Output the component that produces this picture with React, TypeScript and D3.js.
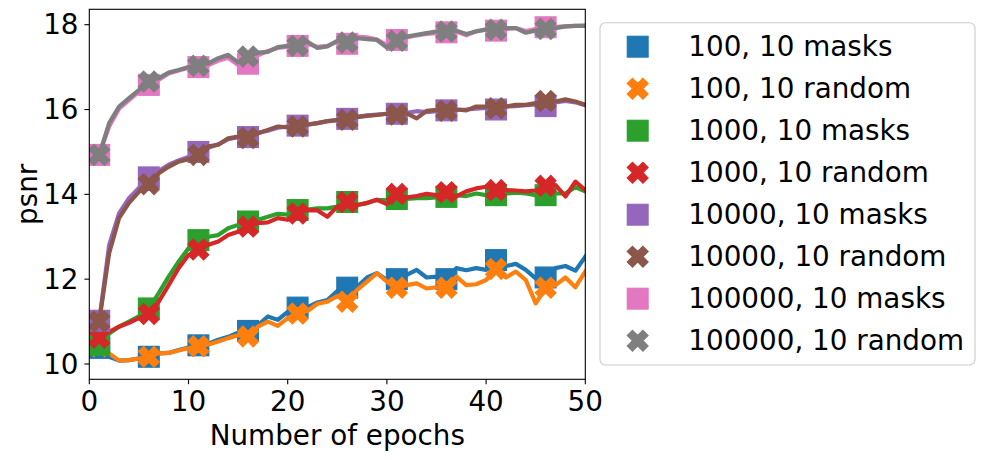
import { useEffect } from 'react'
import * as d3 from 'd3'

// epochs 1..50, values
const epochs = d3.range(1, 51)

const masks100 = [
  10.38, 10.17, 10.08, 10.09, 10.13, 10.17, 10.25, 10.26, 10.33, 10.39,
  10.44, 10.48, 10.57, 10.64, 10.74, 10.78, 10.92, 11.12, 11.04, 11.23,
  11.33, 11.34, 11.45, 11.51, 11.72, 11.8, 11.82, 12.04, 12.14, 11.98,
  12.0, 12.1, 12.22, 12.04, 12.06, 12.0, 12.26, 12.21, 12.26, 12.22,
  12.45, 12.31, 12.36, 12.22, 12.02, 12.04, 12.26, 12.31, 12.2, 12.53
]
const random100 = [
  10.42, 10.25, 10.08, 10.09, 10.13, 10.17, 10.25, 10.26, 10.32, 10.37,
  10.42, 10.46, 10.53, 10.61, 10.68, 10.65, 10.88, 11.0, 10.9, 11.08,
  11.19, 11.25, 11.42, 11.47, 11.6, 11.47, 11.75, 11.94, 12.14, 11.94,
  11.8, 11.86, 11.9, 11.78, 11.81, 11.8, 12.06, 11.86, 11.88, 11.98,
  12.24, 12.04, 12.18, 11.98, 11.43, 11.8, 11.86, 12.04, 11.81, 12.18
]
const masks1000 = [
  10.45, 10.72, 10.88, 11.0, 11.12, 11.31, 11.67, 12.06, 12.41, 12.73,
  12.92, 13.0, 13.04, 13.2, 13.28, 13.36, 13.4, 13.47, 13.54, 13.52,
  13.63, 13.64, 13.67, 13.67, 13.71, 13.82, 13.75, 13.79, 13.87, 13.86,
  13.89, 13.89, 13.91, 13.91, 13.93, 13.94, 13.98, 13.96, 14.02, 13.98,
  13.98, 14.02, 14.04, 14.02, 13.98, 13.98, 14.02, 14.02, 14.17, 14.07
]
const random1000 = [
  10.62, 10.76, 10.88, 10.97, 11.08, 11.18, 11.47, 11.86, 12.26, 12.57,
  12.7, 12.81, 12.89, 13.04, 13.12, 13.24, 13.32, 13.34, 13.44, 13.4,
  13.55, 13.63, 13.62, 13.47, 13.71, 13.82, 13.75, 13.8, 13.87, 13.77,
  14.01, 13.93, 13.96, 14.01, 13.98, 14.05, 13.95, 14.07, 14.14, 14.18,
  14.1, 14.1, 14.09, 14.07, 14.09, 14.2, 14.22, 13.95, 14.3, 14.1
]
const masks10000 = [
  11.02, 12.8, 13.55, 13.91, 14.15, 14.4, 14.55, 14.7, 14.8, 14.88,
  15.0, 15.1, 15.18, 15.3, 15.35, 15.35, 15.45, 15.5, 15.57, 15.6,
  15.62, 15.65, 15.68, 15.72, 15.75, 15.78, 15.83, 15.86, 15.88, 15.9,
  15.9, 15.92, 15.96, 15.94, 15.96, 15.98, 15.99, 16.0, 16.02, 16.04,
  16.0, 16.07, 16.08, 16.1, 16.12, 16.08, 16.17, 16.2, 16.17, 16.1
]
const random10000 = [
  11.0, 12.61, 13.44, 13.8, 14.06, 14.24, 14.5, 14.65, 14.77, 14.83,
  14.93, 15.13, 15.17, 15.32, 15.36, 15.33, 15.44, 15.52, 15.6, 15.58,
  15.6, 15.64, 15.68, 15.73, 15.75, 15.76, 15.82, 15.85, 15.87, 15.9,
  15.88, 15.91, 15.79, 15.97, 15.99, 15.97, 16.0, 15.98, 16.07, 16.07,
  16.03, 16.07, 16.11, 16.11, 16.15, 16.2, 16.19, 16.24, 16.19, 16.11
]
const masks100000 = [
  14.93, 15.6, 16.02, 16.22, 16.42, 16.58, 16.7, 16.85, 16.92, 16.98,
  17.0, 17.05, 17.15, 17.22, 17.05, 17.08, 17.28, 17.38, 17.45, 17.48,
  17.5, 17.55, 17.48, 17.5, 17.6, 17.55, 17.72, 17.7, 17.65, 17.52,
  17.64, 17.7, 17.75, 17.78, 17.8, 17.82, 17.84, 17.75, 17.85, 17.88,
  17.86, 17.9, 17.92, 17.85, 17.9, 17.94, 17.95, 17.96, 17.97, 17.98
]
const random100000 = [
  14.93, 15.68, 16.07, 16.27, 16.46, 16.66, 16.74, 16.87, 16.93, 17.0,
  17.03, 17.09, 17.21, 17.29, 17.11, 17.25, 17.34, 17.36, 17.47, 17.5,
  17.5, 17.6, 17.45, 17.49, 17.62, 17.58, 17.68, 17.66, 17.64, 17.46,
  17.62, 17.72, 17.76, 17.8, 17.84, 17.84, 17.86, 17.78, 17.84, 17.89,
  17.88, 17.92, 17.92, 17.81, 17.86, 17.9, 17.92, 17.96, 17.97, 17.97
]

const labels = [
  '100, 10 masks', '100, 10 random',
  '1000, 10 masks', '1000, 10 random',
  '10000, 10 masks', '10000, 10 random',
  '100000, 10 masks', '100000, 10 random'
]
const seriesValues = [
  masks100, random100, masks1000, random1000,
  masks10000, random10000, masks100000, random100000
]
const colors = d3.schemeCategory10.slice(0, 8)
const xTicks = [0, 10, 20, 30, 40, 50]
const yTicks = [10, 12, 14, 16, 18]

const W = 984
const H = 460
const margin = { left: 89.3, right: 585.3, top: 9.3, bottom: 379.3 }
const FONT = 'DejaVu Sans, sans-serif'
const FS = 27.8
const MS = 20.8

// matplotlib filled 'X' marker outline (unit size)
const xPts = [
  [-0.25, -0.5], [0, -0.25], [0.25, -0.5], [0.5, -0.25],
  [0.25, 0], [0.5, 0.25], [0.25, 0.5], [0, 0.25],
  [-0.25, 0.5], [-0.5, 0.25], [-0.25, 0], [-0.5, -0.25]
]
const xPath = (s: number) => 'M' + xPts.map(p => `${p[0] * s},${p[1] * s}`).join('L') + 'Z'

function Marker({ kind, cx, cy, color }: { kind: string; cx: number; cy: number; color: string }) {
  if (kind === 'square') {
    return (
      <rect x={cx - MS / 2} y={cy - MS / 2} width={MS} height={MS}
        fill={color} stroke={color} strokeWidth={1.2} />
    )
  }
  return (
    <path d={xPath(MS)} transform={`translate(${cx},${cy})`}
      fill={color} stroke={color} strokeWidth={1.2} strokeLinejoin="miter" />
  )
}

export default function App() {
  useEffect(() => {
    document.body.style.margin = '0'
  }, [])

  const x = d3.scaleLinear().domain([0, 50]).range([margin.left, margin.right])
  const y = d3.scaleLinear().domain([9.639, 18.363]).range([margin.bottom, margin.top])

  const line = d3.line<number>()
    .x((_, i) => x(epochs[i]))
    .y(d => y(d))

  const markIdx = epochs.map((_, i) => i).filter(i => i % 5 === 0)

  return (
    <svg width={W} height={H} style={{ display: 'block', background: '#fff' }}>
      <defs>
        <clipPath id="plot">
          <rect x={margin.left} y={margin.top}
            width={margin.right - margin.left} height={margin.bottom - margin.top} />
        </clipPath>
      </defs>

      <g clipPath="url(#plot)">
        {seriesValues.map((vals, s) => (
          <g key={labels[s]}>
            <path d={line(vals) || ''} fill="none" stroke={colors[s]}
              strokeWidth={4.2} strokeLinejoin="round" strokeLinecap="square" />
            {markIdx.map(i => (
              <Marker key={i} kind={s % 2 === 0 ? 'square' : 'x'}
                cx={x(epochs[i])} cy={y(vals[i])} color={colors[s]} />
            ))}
          </g>
        ))}
      </g>

      {/* frame */}
      <rect x={margin.left} y={margin.top} width={margin.right - margin.left}
        height={margin.bottom - margin.top} fill="none" stroke="#000" strokeWidth={1.1} />

      {/* x axis */}
      {xTicks.map(t => (
        <g key={t}>
          <line x1={x(t)} x2={x(t)} y1={margin.bottom} y2={margin.bottom + 4.9}
            stroke="#000" strokeWidth={1.1} />
          <text x={x(t)} y={411} textAnchor="middle" fontFamily={FONT} fontSize={FS}>{t}</text>
        </g>
      ))}
      <text x={(margin.left + margin.right) / 2} y={445} textAnchor="middle"
        fontFamily={FONT} fontSize={FS}>Number of epochs</text>

      {/* y axis */}
      {yTicks.map(t => (
        <g key={t}>
          <line x1={margin.left - 4.9} x2={margin.left} y1={y(t)} y2={y(t)}
            stroke="#000" strokeWidth={1.1} />
          <text x={78.5} y={y(t)} dy="0.35em" textAnchor="end" fontFamily={FONT} fontSize={FS}>{t}</text>
        </g>
      ))}
      <text transform={`translate(37,${(margin.top + margin.bottom) / 2}) rotate(-90)`}
        textAnchor="middle" fontFamily={FONT} fontSize={FS}>psnr</text>

      {/* legend */}
      <rect x={600} y={22.7} width={375} height={342.3} rx={5.5} ry={5.5}
        fill="#fff" fillOpacity={0.8} stroke="#cccccc" strokeWidth={1.1} />
      {labels.map((lab, s) => {
        const ly = 46.7 + s * 42
        return (
          <g key={lab}>
            <Marker kind={s % 2 === 0 ? 'square' : 'x'} cx={637.7} cy={ly} color={colors[s]} />
            <text x={688.3} y={ly} dy="0.35em" fontFamily={FONT} fontSize={FS}>{lab}</text>
          </g>
        )
      })}
    </svg>
  )
}
